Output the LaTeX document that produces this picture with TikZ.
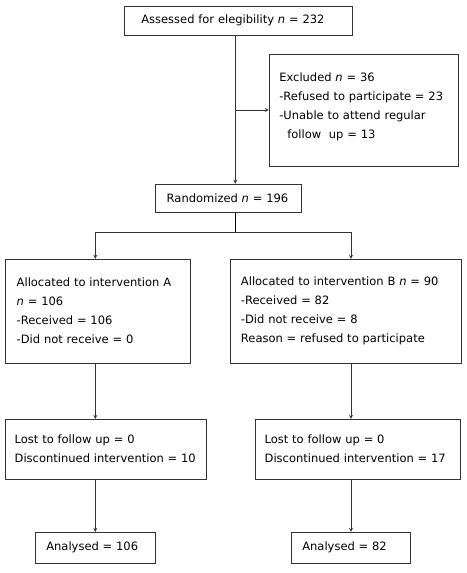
\documentclass[tikz,border=0pt]{standalone}
\usepackage{fontspec}
\setmainfont{DejaVu Sans}
\usetikzlibrary{arrows}
\tikzstyle{flowbox} =[rectangle, draw=black!80, line width=0.8pt, inner xsep=11pt, inner ysep=0pt, align=left, font=\fontsize{11.5}{19}\selectfont]
\tikzstyle{arrow} =[draw=black!80, line width=0.8pt, ->, >=stealth]

\begin{document}
\begin{tikzpicture}[node distance=60pt]
\useasboundingbox (-238.3pt,20.5pt) rectangle (227.7pt,-552.5pt);
\node (assess) [flowbox, inner xsep=17pt, text width=194pt, minimum height=29pt] {Assessed for elegibility \textit{n} = 232};
\node (excl) [flowbox, inner xsep=10pt, text width=169pt, minimum height=112pt, right of=assess, xshift=65.5pt, yshift=-89.5pt] {Excluded \textit{n} = 36\\-Refused to participate = 23\\-Unable to attend regular\\\hspace*{8pt}follow\ \ up = 13\\[-9.5pt]\mbox{}};
\node (rand) [flowbox, text width=124pt, minimum height=28pt, below of=assess, xshift=-9.6pt, yshift=-117.7pt] {Randomized \textit{n} = 196};
\node (allocA) [flowbox, text width=162.6pt, minimum height=104pt, below of=rand, xshift=-130.7pt, yshift=-53pt] {Allocated to intervention A\\\textit{n} = 106\\-Received = 106\\-Did not receive = 0};
\node (allocB) [flowbox, text width=209.7pt, minimum height=104pt, below of=rand, xshift=117.1pt, yshift=-53pt] {Allocated to intervention B \textit{n} = 90\\-Received = 82\\-Did not receive = 8\\Reason = refused to participate};
\node (lostA) [flowbox, inner xsep=9pt, text width=182.6pt, minimum height=59.7pt, below of=allocA, xshift=8pt, yshift=-78pt] {Lost to follow up = 0\\Discontinued intervention = 10};
\node (lostB) [flowbox, inner xsep=9pt, text width=186.3pt, minimum height=59.7pt, below of=allocB, xshift=12pt, yshift=-78pt] {Lost to follow up = 0\\Discontinued intervention = 17};
\node (anaA) [flowbox, text width=98pt, minimum height=31pt, below of=lostA, xshift=-10.7pt, yshift=-38.6pt] {Analysed = 106};
\node (anaB) [flowbox, text width=97.4pt, minimum height=31pt, below of=lostB, xshift=-6.8pt, yshift=-38.6pt] {Analysed = 82};
\coordinate (top) at ([xshift=-3pt]assess.south);
\draw [arrow] (top)--(top |- rand.north);
\draw [arrow] (top |- excl.west)--(excl.west);
\draw (top |- rand.south)--++(0,-20pt) coordinate (fork);
\draw [arrow] (fork) -| (anaA.north |- allocA.north);
\draw [arrow] (fork) -| (anaB.north |- allocB.north);
\draw [arrow] (anaA.north |- allocA.south)--(anaA.north |- lostA.north);
\draw [arrow] (anaB.north |- allocB.south)--(anaB.north |- lostB.north);
\draw [arrow] (anaA.north |- lostA.south)--(anaA.north);
\draw [arrow] (anaB.north |- lostB.south)--(anaB.north);
\end{tikzpicture}
\end{document}
